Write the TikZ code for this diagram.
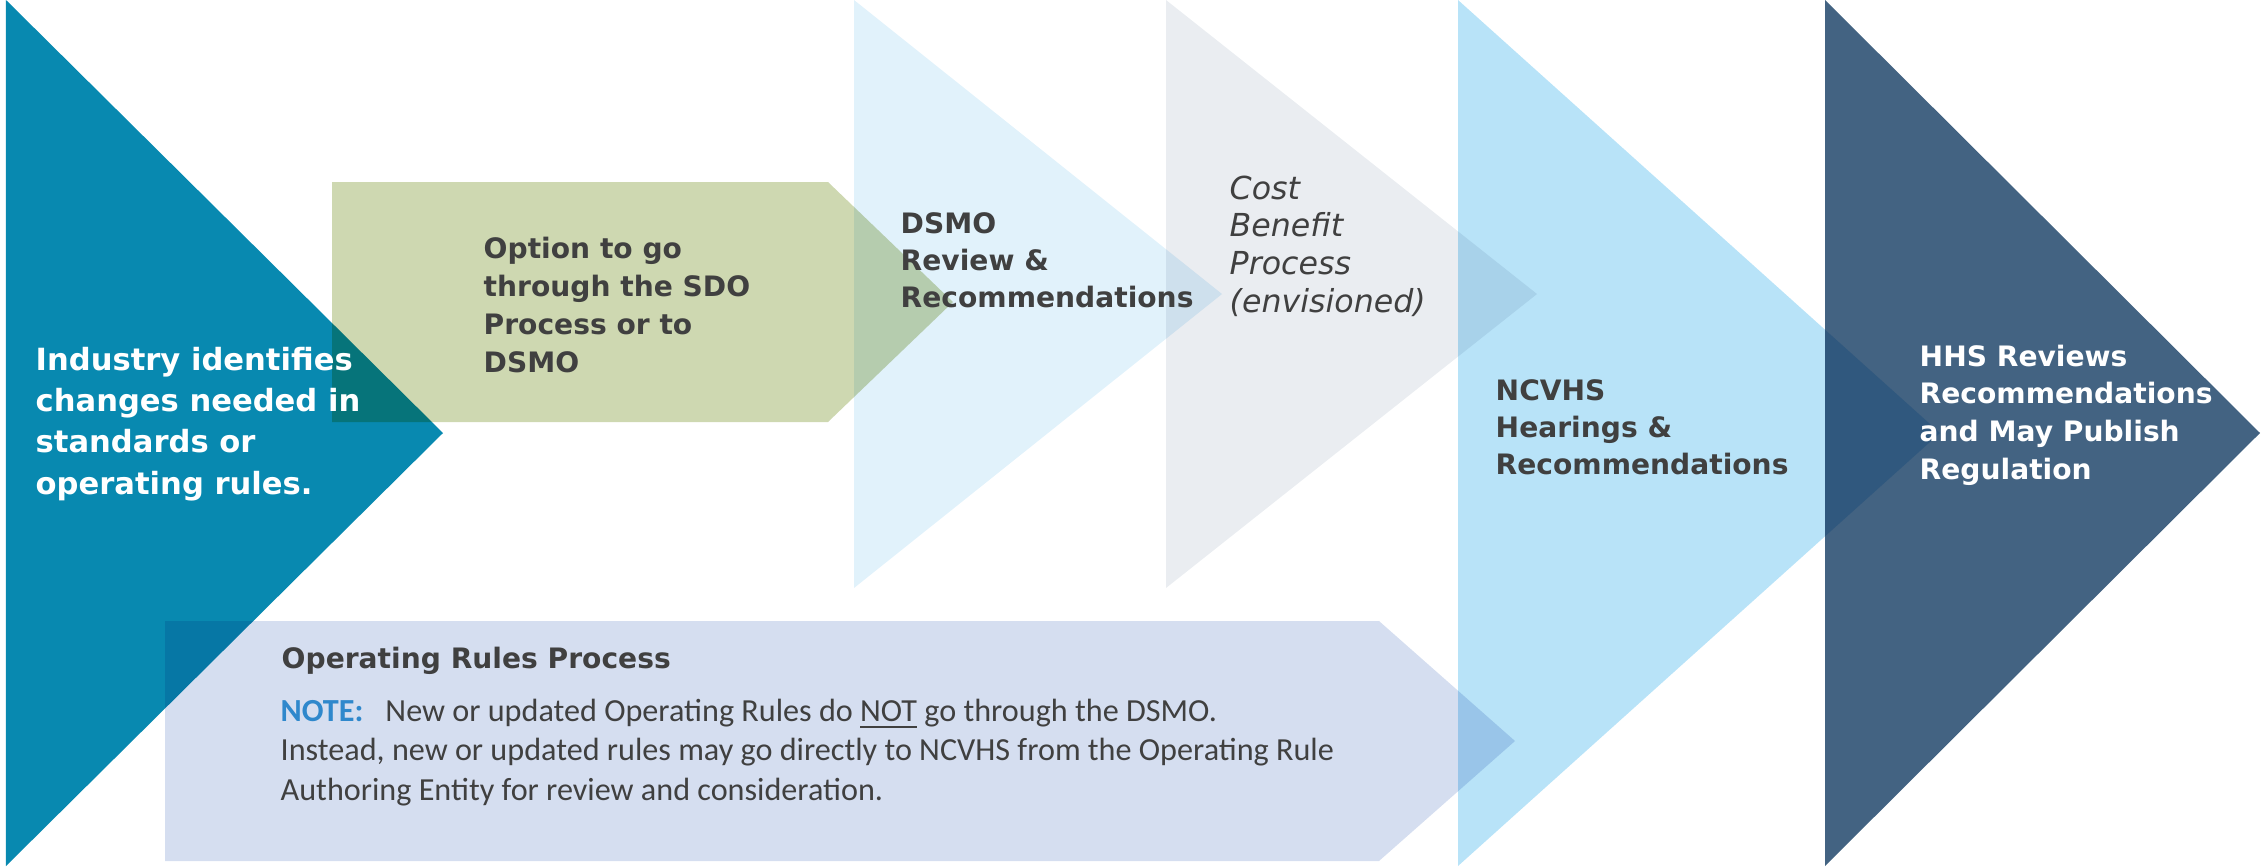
\documentclass[tikz,border=0pt]{standalone}
\usepackage{fontspec}
\newfontfamily\verdfont{DejaVu Sans}
\newfontfamily\notefont{Carlito}
\definecolor{tealband}{HTML}{0889B0}
\definecolor{sdogreen}{HTML}{CED8B1}
\definecolor{dsmoblue}{HTML}{E1F2FB}
\definecolor{costgray}{HTML}{EAEDF1}
\definecolor{ncvhsblue}{HTML}{B8E3F8}
\definecolor{rulesblue}{HTML}{D5DEF0}
\definecolor{hhsblue}{HTML}{436382}
\definecolor{textgray}{HTML}{404040}
\definecolor{noteblue}{HTML}{2F88CC}
\begin{document}
\begin{tikzpicture}
[x=0.01cm,y=-0.01cm,
  labeldecorate/.style={anchor=base west,inner sep=0pt,align=left,text=textgray,%
    font=\verdfont\bfseries\fontsize{8}{10.5}\selectfont},
  whitedecorate/.style={labeldecorate,text=white},
  notedecorate/.style={anchor=base west,inner sep=0pt,align=left,text=textgray,%
    font=\notefont\fontsize{9.15}{11.1}\selectfont}]
\useasboundingbox (0,0) rectangle (2262,866);
% chevrons and arrows
\begin{scope}[blend mode=multiply]
\fill[tealband] (6,0) -- (443,433) -- (6,866) -- cycle;
\fill[sdogreen] (332,182) -- (828,182) -- (953,302) -- (828,422) -- (332,422) -- cycle;
\fill[dsmoblue] (854,0) -- (1222,294) -- (854,588) -- cycle;
\fill[costgray] (1166,0) -- (1537,294) -- (1166,588) -- cycle;
\fill[ncvhsblue] (1458,0) -- (1940,433) -- (1458,866) -- cycle;
\fill[rulesblue] (165,621) -- (1379,621) -- (1515,741) -- (1379,861) -- (165,861) -- cycle;
\fill[hhsblue] (1825,0) -- (2260,433) -- (1825,866) -- cycle;
\end{scope}
% labels (placed at the baseline of their last line)
\node (industry) at (35,494) [whitedecorate,font=\verdfont\bfseries\fontsize{8.7}{11.75}\selectfont]
  {Industry identifies\\changes needed in\\standards or\\operating rules.};
\node (sdo) at (483,372) [labeldecorate,font=\verdfont\bfseries\fontsize{8}{10.8}\selectfont]
  {Option to go\\through the SDO\\Process or to\\DSMO};
\node (dsmo) at (900,307) [labeldecorate] {DSMO\\Review \&\\Recommendations};
\node (cost) at (1229,312) [labeldecorate,font=\verdfont\itshape\fontsize{9}{10.7}\selectfont]
  {Cost\\Benefit\\Process\\(envisioned)};
\node (ncvhs) at (1495,474) [labeldecorate,font=\verdfont\bfseries\fontsize{8}{10.4}\selectfont]
  {NCVHS\\Hearings \&\\Recommendations};
\node (hhs) at (1919,479) [whitedecorate,font=\verdfont\bfseries\fontsize{8}{10.7}\selectfont]
  {HHS Reviews\\Recommendations\\and May Publish\\Regulation};
\node (rules) at (281,668) [labeldecorate] {Operating Rules Process};
\node (note) at (280,800) [notedecorate]
  {\textcolor{noteblue}{\bfseries NOTE:}\hspace{0.22cm}New or updated Operating Rules do \underline{NOT} go through the DSMO.\\
   Instead, new or updated rules may go directly to NCVHS from the Operating Rule\\
   Authoring Entity for review and consideration.};
\end{tikzpicture}
\end{document}
